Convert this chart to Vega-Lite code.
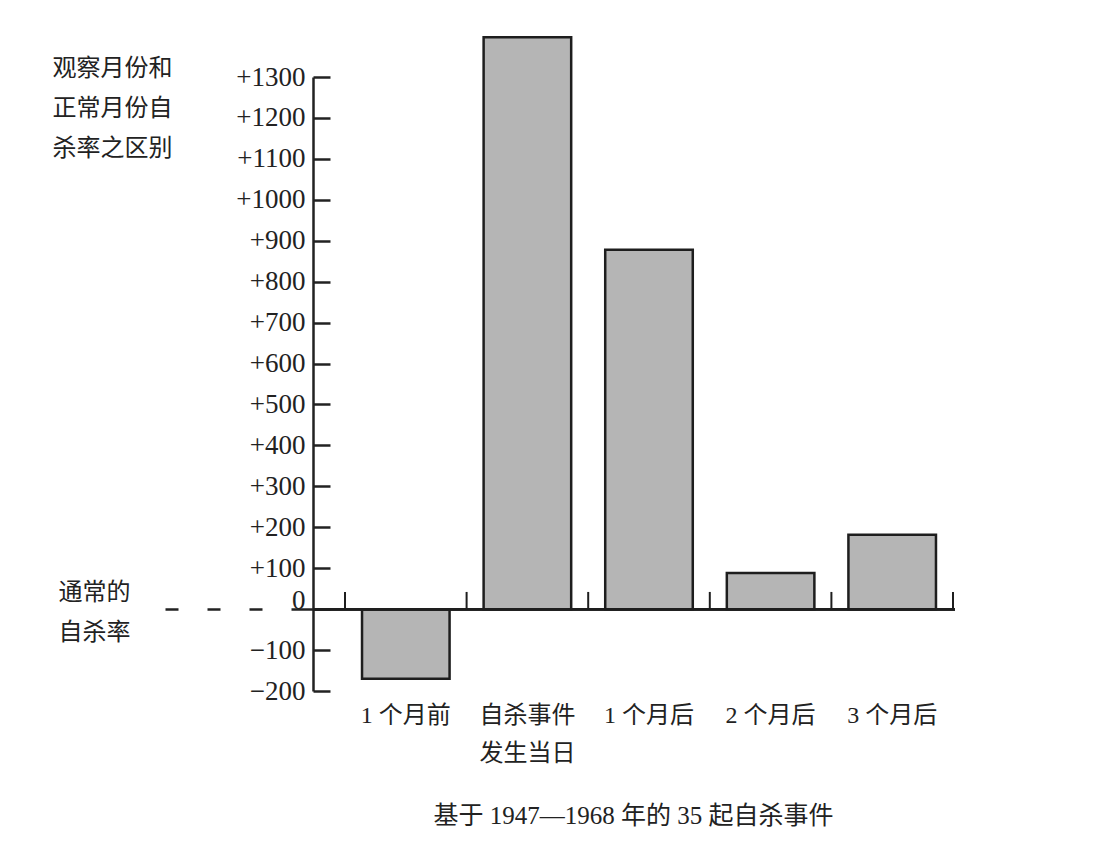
{
  "$schema": "https://vega.github.io/schema/vega-lite/v6.json",
  "width": 642,
  "height": 614,
  "autosize": {"type": "none"},
  "padding": {"left": 313, "top": 77, "right": 145, "bottom": 173},
  "background": "white",
  "config": {"view": {"stroke": null}},
  "data": {
    "values": [
      {"cat": "1 个月前", "v": -170},
      {"cat": "自杀事件发生当日", "v": 1397},
      {"cat": "1 个月后", "v": 878},
      {"cat": "2 个月后", "v": 88},
      {"cat": "3 个月后", "v": 182}
    ]
  },
  "resolve": {"axis": {"y": "independent"}},
  "layer": [
    {
      "mark": {"type": "bar", "width": {"band": 0.72}, "fill": "#b5b5b5", "stroke": "#1e1e1e", "strokeWidth": 2.5},
      "encoding": {
        "x": {
          "field": "cat", "type": "nominal", "sort": null,
          "scale": {"range": [32, 640], "paddingInner": 0, "paddingOuter": 0},
          "title": "基于 1947—1968 年的 35 起自杀事件",
          "axis": {
            "orient": "bottom", "domain": false, "ticks": false, "labelAngle": 0,
            "labelFont": "Liberation Serif, Noto Sans CJK SC", "labelFontSize": 24, "labelColor": "#222",
            "labelPadding": 12, "labelLineHeight": 38,
            "labelExpr": "datum.label == '自杀事件发生当日' ? ['自杀事件','发生当日'] : datum.label",
            "titleFont": "Liberation Serif, Noto Sans CJK SC", "titleFontSize": 25, "titleFontWeight": "normal", "titleColor": "#222",
            "titleX": 320, "titleY": 124, "titleBaseline": "middle", "titleAlign": "center"
          }
        },
        "y": {
          "field": "v", "type": "quantitative",
          "scale": {"domain": [-200, 1300], "nice": false},
          "axis": {
            "orient": "left",
            "values": [-200, -100, 0, 100, 200, 300, 400, 500, 600, 700, 800, 900, 1000, 1100, 1200, 1300],
            "labelExpr": "datum.value > 0 ? '+' + datum.value : (datum.value < 0 ? '−' + abs(datum.value) : '0')",
            "labelFont": "Liberation Serif", "labelFontSize": 27, "labelColor": "#222",
            "labelOffset": {"condition": {"test": "datum.value === 0", "value": -9}, "value": 0},
            "tickSize": -17, "tickWidth": 2.5, "tickColor": "#222", "labelPadding": 25,
            "domainWidth": 2.5, "domainColor": "#222", "grid": false,
            "title": ["观察月份和", "正常月份自", "杀率之区别"],
            "titleFont": "Noto Sans CJK SC", "titleFontSize": 24, "titleFontWeight": "normal", "titleColor": "#222",
            "titleAngle": 0, "titleAlign": "left", "titleBaseline": "top",
            "titleX": -261, "titleY": -21, "titleLineHeight": 40
          }
        }
      }
    },
    {
      "mark": {"type": "rule", "stroke": "#1e1e1e", "strokeWidth": 2.5},
      "encoding": {
        "y": {
          "datum": 0, "type": "quantitative",
          "axis": {
            "orient": "left", "values": [0], "domain": false, "grid": false,
            "tickSize": 148, "tickDash": [22, 29, 13, 29, 13, 29, 13], "tickWidth": 2.5, "tickColor": "#222",
            "labelExpr": "['通常的', '自杀率']",
            "labelFont": "Noto Sans CJK SC", "labelFontSize": 24, "labelColor": "#222",
            "labelPadding": 35, "labelLineHeight": 40, "labelOffset": -17, "labelAlign": "right", "labelBaseline": "middle",
            "title": null
          }
        }
      }
    },
    {
      "mark": {"type": "rule", "stroke": "#1e1e1e", "strokeWidth": 2},
      "encoding": {
        "x": {"field": "cat", "type": "nominal", "sort": null, "bandPosition": 0, "title": "基于 1947—1968 年的 35 起自杀事件"},
        "y": {"datum": 0, "type": "quantitative", "axis": null},
        "y2": {"datum": 42}
      }
    },
    {
      "mark": {"type": "rule", "stroke": "#1e1e1e", "strokeWidth": 2},
      "encoding": {
        "x": {"datum": "3 个月后", "type": "nominal", "bandPosition": 1, "title": "基于 1947—1968 年的 35 起自杀事件"},
        "y": {"datum": 0, "type": "quantitative", "axis": null},
        "y2": {"datum": 42}
      }
    }
  ]
}
